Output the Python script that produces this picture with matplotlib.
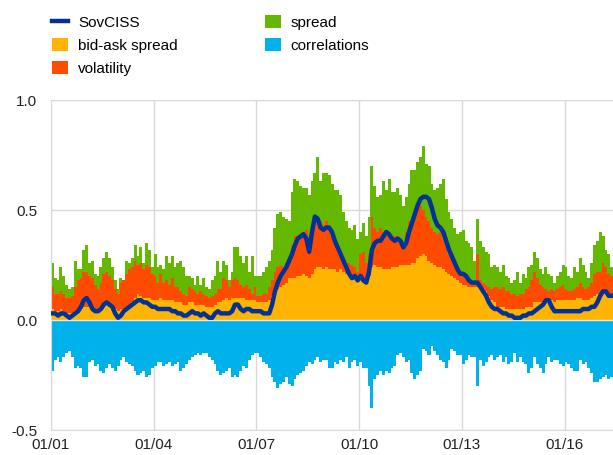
import matplotlib.pyplot as plt
import numpy as np

# monthly data, Jan 2001 - May 2017 (one row per year)
bidask = [
    0.05, 0.04, 0.04, 0.05, 0.04, 0.03, 0.03, 0.03, 0.04, 0.05, 0.05, 0.06,
    0.06, 0.06, 0.05, 0.05, 0.05, 0.06, 0.07, 0.07, 0.06, 0.06, 0.05, 0.04,
    0.05, 0.05, 0.06, 0.07, 0.08, 0.10, 0.12, 0.11, 0.10, 0.10, 0.10, 0.09,
    0.09, 0.09, 0.10, 0.09, 0.09, 0.09, 0.09, 0.08, 0.08, 0.08, 0.07, 0.07,
    0.08, 0.08, 0.07, 0.07, 0.07, 0.07, 0.06, 0.06, 0.06, 0.07, 0.08, 0.08,
    0.09, 0.10, 0.09, 0.10, 0.10, 0.10, 0.10, 0.10, 0.09, 0.09, 0.09, 0.09,
    0.08, 0.08, 0.08, 0.08, 0.09, 0.11, 0.13, 0.14, 0.15, 0.16, 0.17, 0.19,
    0.19, 0.19, 0.20, 0.20, 0.21, 0.20, 0.19, 0.21, 0.23, 0.24, 0.24, 0.23,
    0.24, 0.23, 0.23, 0.23, 0.22, 0.23, 0.22, 0.21, 0.21, 0.20, 0.20, 0.20,
    0.19, 0.18, 0.18, 0.20, 0.24, 0.25, 0.24, 0.24, 0.23, 0.23, 0.23, 0.24,
    0.24, 0.24, 0.25, 0.25, 0.25, 0.25, 0.26, 0.26, 0.28, 0.29, 0.30, 0.29,
    0.27, 0.26, 0.25, 0.24, 0.24, 0.23, 0.22, 0.21, 0.20, 0.19, 0.18, 0.17,
    0.16, 0.16, 0.15, 0.15, 0.15, 0.15, 0.14, 0.14, 0.13, 0.11, 0.09, 0.08,
    0.06, 0.06, 0.06, 0.05, 0.05, 0.05, 0.05, 0.05, 0.05, 0.05, 0.06, 0.06,
    0.06, 0.08, 0.08, 0.08, 0.08, 0.08, 0.09, 0.09, 0.08, 0.09, 0.09, 0.09,
    0.09, 0.09, 0.09, 0.09, 0.10, 0.10, 0.09, 0.09, 0.09, 0.10, 0.11, 0.12,
    0.12, 0.13, 0.13, 0.12, 0.11,
]

# cumulative level of bid-ask + volatility
vol_top = [
    0.15, 0.12, 0.12, 0.13, 0.12, 0.10, 0.10, 0.11, 0.15, 0.18, 0.19, 0.22,
    0.22, 0.20, 0.19, 0.16, 0.14, 0.17, 0.21, 0.22, 0.20, 0.18, 0.14, 0.12,
    0.17, 0.18, 0.21, 0.23, 0.24, 0.27, 0.25, 0.26, 0.23, 0.25, 0.24, 0.21,
    0.20, 0.17, 0.21, 0.17, 0.18, 0.16, 0.19, 0.15, 0.15, 0.13, 0.12, 0.11,
    0.15, 0.14, 0.13, 0.12, 0.13, 0.12, 0.11, 0.10, 0.11, 0.12, 0.14, 0.14,
    0.19, 0.18, 0.15, 0.18, 0.19, 0.18, 0.16, 0.15, 0.16, 0.14, 0.12, 0.15,
    0.11, 0.11, 0.12, 0.12, 0.15, 0.18, 0.22, 0.24, 0.25, 0.24, 0.26, 0.28,
    0.34, 0.38, 0.38, 0.39, 0.40, 0.41, 0.38, 0.41, 0.46, 0.47, 0.45, 0.43,
    0.45, 0.43, 0.38, 0.35, 0.33, 0.30, 0.27, 0.26, 0.26, 0.25, 0.24, 0.22,
    0.30, 0.31, 0.26, 0.30, 0.47, 0.42, 0.40, 0.42, 0.40, 0.41, 0.40, 0.38,
    0.38, 0.38, 0.37, 0.35, 0.40, 0.45, 0.47, 0.46, 0.50, 0.52, 0.50, 0.47,
    0.45, 0.42, 0.40, 0.39, 0.40, 0.37, 0.33, 0.30, 0.28, 0.26, 0.24, 0.21,
    0.20, 0.19, 0.18, 0.17, 0.16, 0.30, 0.18, 0.17, 0.16, 0.15, 0.14, 0.15,
    0.15, 0.14, 0.15, 0.13, 0.13, 0.12, 0.12, 0.11, 0.12, 0.12, 0.14, 0.15,
    0.18, 0.22, 0.19, 0.16, 0.15, 0.14, 0.13, 0.14, 0.13, 0.14, 0.15, 0.16,
    0.14, 0.13, 0.13, 0.14, 0.15, 0.17, 0.15, 0.14, 0.15, 0.17, 0.21, 0.22,
    0.22, 0.26, 0.24, 0.21, 0.20,
]

# cumulative level of bid-ask + volatility + spread
spread_top = [
    0.26, 0.19, 0.18, 0.24, 0.20, 0.16, 0.14, 0.15, 0.27, 0.23, 0.23, 0.32,
    0.34, 0.26, 0.27, 0.21, 0.20, 0.24, 0.28, 0.31, 0.28, 0.24, 0.18, 0.14,
    0.19, 0.18, 0.27, 0.26, 0.28, 0.34, 0.29, 0.33, 0.26, 0.35, 0.32, 0.24,
    0.30, 0.24, 0.25, 0.23, 0.29, 0.26, 0.29, 0.24, 0.26, 0.27, 0.24, 0.20,
    0.20, 0.19, 0.16, 0.20, 0.16, 0.19, 0.15, 0.14, 0.18, 0.20, 0.27, 0.22,
    0.27, 0.25, 0.18, 0.22, 0.33, 0.33, 0.29, 0.26, 0.29, 0.22, 0.29, 0.20,
    0.20, 0.20, 0.22, 0.24, 0.27, 0.32, 0.42, 0.48, 0.49, 0.47, 0.46, 0.45,
    0.58, 0.64, 0.63, 0.61, 0.60, 0.60, 0.57, 0.63, 0.67, 0.74, 0.63, 0.67,
    0.67, 0.66, 0.62, 0.59, 0.59, 0.57, 0.49, 0.45, 0.42, 0.41, 0.43, 0.37,
    0.40, 0.44, 0.38, 0.47, 0.70, 0.61, 0.56, 0.57, 0.63, 0.59, 0.64, 0.58,
    0.58, 0.60, 0.57, 0.52, 0.56, 0.62, 0.68, 0.68, 0.72, 0.74, 0.79, 0.71,
    0.70, 0.62, 0.59, 0.60, 0.62, 0.64, 0.55, 0.49, 0.46, 0.42, 0.39, 0.40,
    0.41, 0.36, 0.35, 0.33, 0.27, 0.46, 0.36, 0.33, 0.31, 0.30, 0.24, 0.25,
    0.24, 0.22, 0.25, 0.20, 0.19, 0.17, 0.18, 0.22, 0.17, 0.21, 0.19, 0.24,
    0.25, 0.31, 0.28, 0.23, 0.21, 0.24, 0.21, 0.20, 0.17, 0.20, 0.22, 0.25,
    0.24, 0.20, 0.19, 0.24, 0.22, 0.28, 0.25, 0.22, 0.19, 0.26, 0.34, 0.36,
    0.40, 0.38, 0.32, 0.30, 0.24,
]

correlations = [
    -0.23, -0.18, -0.17, -0.19, -0.17, -0.15, -0.14, -0.17, -0.22, -0.21, -0.22, -0.26,
    -0.26, -0.19, -0.18, -0.21, -0.20, -0.23, -0.24, -0.22, -0.20, -0.22, -0.23, -0.21,
    -0.18, -0.17, -0.19, -0.20, -0.21, -0.23, -0.25, -0.24, -0.23, -0.26, -0.25, -0.22,
    -0.21, -0.19, -0.19, -0.21, -0.20, -0.19, -0.21, -0.20, -0.19, -0.23, -0.22, -0.20,
    -0.18, -0.17, -0.16, -0.15, -0.16, -0.15, -0.15, -0.17, -0.18, -0.20, -0.23, -0.25,
    -0.24, -0.23, -0.22, -0.26, -0.25, -0.26, -0.23, -0.21, -0.22, -0.18, -0.16, -0.15,
    -0.15, -0.17, -0.19, -0.20, -0.22, -0.26, -0.28, -0.31, -0.29, -0.28, -0.26, -0.29,
    -0.30, -0.27, -0.25, -0.24, -0.23, -0.21, -0.19, -0.20, -0.18, -0.17, -0.19, -0.18,
    -0.18, -0.22, -0.22, -0.19, -0.20, -0.18, -0.19, -0.17, -0.22, -0.19, -0.18, -0.21,
    -0.19, -0.22, -0.22, -0.30, -0.40, -0.27, -0.25, -0.23, -0.25, -0.23, -0.24, -0.22,
    -0.21, -0.16, -0.15, -0.17, -0.19, -0.18, -0.24, -0.27, -0.25, -0.23, -0.13, -0.14,
    -0.16, -0.12, -0.14, -0.16, -0.18, -0.19, -0.22, -0.18, -0.13, -0.14, -0.16, -0.16,
    -0.20, -0.18, -0.16, -0.17, -0.17, -0.30, -0.18, -0.21, -0.19, -0.17, -0.16, -0.18,
    -0.17, -0.16, -0.19, -0.17, -0.20, -0.19, -0.15, -0.19, -0.17, -0.19, -0.20, -0.24,
    -0.22, -0.17, -0.20, -0.22, -0.24, -0.20, -0.17, -0.19, -0.18, -0.18, -0.20, -0.21,
    -0.19, -0.20, -0.22, -0.23, -0.23, -0.18, -0.20, -0.19, -0.22, -0.24, -0.28, -0.28,
    -0.27, -0.26, -0.25, -0.27, -0.26,
]

sovciss = [
    0.03, 0.03, 0.02, 0.03, 0.03, 0.02, 0.01, 0.02, 0.03, 0.04, 0.06, 0.09,
    0.10, 0.08, 0.05, 0.04, 0.04, 0.05, 0.07, 0.08, 0.07, 0.06, 0.03, 0.01,
    0.02, 0.04, 0.05, 0.06, 0.07, 0.08, 0.09, 0.09, 0.08, 0.08, 0.07, 0.06,
    0.06, 0.05, 0.05, 0.05, 0.05, 0.05, 0.04, 0.04, 0.03, 0.03, 0.02, 0.02,
    0.03, 0.04, 0.03, 0.03, 0.02, 0.03, 0.02, 0.01, 0.01, 0.03, 0.04, 0.03,
    0.03, 0.03, 0.03, 0.04, 0.07, 0.07, 0.05, 0.04, 0.05, 0.05, 0.04, 0.04,
    0.04, 0.04, 0.03, 0.03, 0.03, 0.07, 0.13, 0.17, 0.20, 0.22, 0.24, 0.27,
    0.30, 0.34, 0.37, 0.38, 0.39, 0.37, 0.31, 0.40, 0.47, 0.46, 0.42, 0.41,
    0.42, 0.42, 0.40, 0.36, 0.33, 0.30, 0.27, 0.24, 0.21, 0.19, 0.20, 0.18,
    0.20, 0.18, 0.17, 0.22, 0.32, 0.35, 0.36, 0.36, 0.38, 0.40, 0.39, 0.37,
    0.36, 0.37, 0.36, 0.33, 0.35, 0.40, 0.44, 0.48, 0.52, 0.55, 0.56, 0.56,
    0.55, 0.51, 0.46, 0.43, 0.42, 0.40, 0.36, 0.32, 0.29, 0.26, 0.23, 0.21,
    0.21, 0.20, 0.18, 0.17, 0.17, 0.17, 0.15, 0.13, 0.11, 0.08, 0.06, 0.05,
    0.05, 0.04, 0.03, 0.03, 0.02, 0.02, 0.01, 0.01, 0.01, 0.02, 0.02, 0.03,
    0.03, 0.04, 0.05, 0.06, 0.07, 0.09, 0.09, 0.06, 0.04, 0.04, 0.04, 0.04,
    0.04, 0.04, 0.04, 0.04, 0.04, 0.04, 0.05, 0.05, 0.05, 0.06, 0.06, 0.08,
    0.11, 0.13, 0.13, 0.11, 0.11,
]

tick_labels = ['01/01', '01/04', '01/07', '01/10', '01/13', '01/16']

plt.rcParams['font.family'] = ['Liberation Sans', 'DejaVu Sans']

bidask = np.array(bidask)
volatility = np.maximum(np.array(vol_top) - bidask, 0)
spread = np.maximum(np.array(spread_top) - bidask - volatility, 0)
correlations = np.array(correlations)
x = np.arange(len(bidask)) + 0.5

fig = plt.figure(figsize=(6.13, 4.55), dpi=100)
ax = fig.add_axes([51 / 613, 25 / 455, 562 / 613, 330 / 455])

w = 1.06  # slight overlap so neighbouring bars leave no hairline gaps
ax.bar(x, bidask, width=w, color='#FFB400', linewidth=0, label='bid-ask spread', zorder=2)
ax.bar(x, volatility, width=w, bottom=bidask, color='#FF4B00', linewidth=0,
       label='volatility', zorder=2)
ax.bar(x, spread, width=w, bottom=bidask + volatility, color='#65B800', linewidth=0,
       label='spread', zorder=2)
ax.bar(x, correlations, width=w, color='#00B1EA', linewidth=0, label='correlations', zorder=2)
ax.axhline(0, color='#e6e6e6', lw=1, zorder=3)
ax.plot(x, sovciss, color='#003299', lw=3.2, label='SovCISS', zorder=4,
        solid_joinstyle='round')

ax.set_xlim(0, len(bidask))
ax.set_ylim(-0.5, 1.0)
ax.set_yticks([-0.5, 0.0, 0.5, 1.0])
ax.set_yticklabels(['-0.5', '0.0', '0.5', '1.0'])
ax.set_xticks(np.arange(0, 181, 36))
ax.set_xticklabels(tick_labels)
ax.tick_params(length=0, labelsize=11, colors='#222222', pad=6)
ax.tick_params(axis='y', pad=10)
ax.grid(True, color='#d9d9d9', lw=1, zorder=0)
ax.set_axisbelow(True)
for side in ['top', 'right']:
    ax.spines[side].set_visible(False)
for side in ['left', 'bottom']:
    ax.spines[side].set_color('#d9d9d9')

h, l = ax.get_legend_handles_labels()
order = ['SovCISS', 'bid-ask spread', 'volatility', 'spread', 'correlations']
hd = dict(zip(l, h))
fig.legend([hd[k] for k in order], order, loc='upper left', ncol=2,
           bbox_to_anchor=(52 / 613, 1 - 15 / 455), frameon=False, fontsize=11,
           borderpad=0, borderaxespad=0,
           handlelength=1.05, handleheight=0.9, handletextpad=0.65,
           columnspacing=5.7, labelspacing=0.56)

fig.savefig('out.png', dpi=100)
